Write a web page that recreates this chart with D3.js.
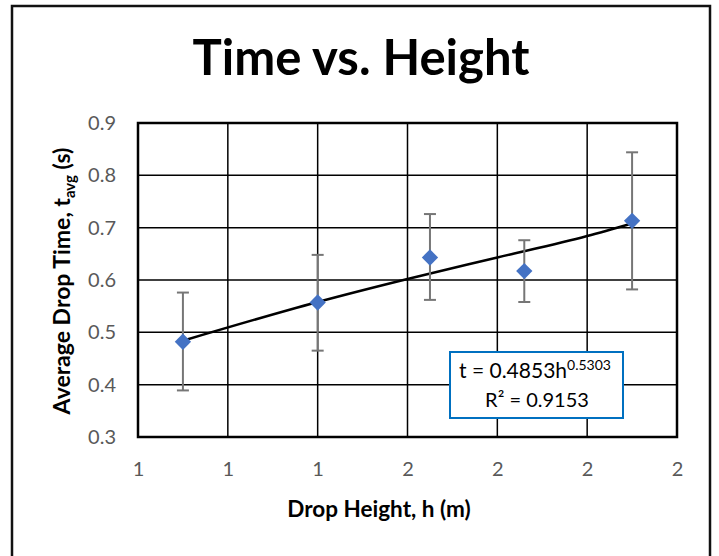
<!DOCTYPE html>
<html lang="en">
  <head>
    <meta charset="UTF-8" />
    <title>Time vs. Height</title>
    <script src="https://d3js.org/d3.v7.min.js"></script>
    <style>
      body { margin: 0; background: #fff; }
      svg { display: block; font-family: Lato, 'Open Sans', sans-serif; }
    </style>
  </head>
  <body>
    <div id="chart"></div>
    <script>
      // measured drop data
      const heights = [1.1, 1.4, 1.65, 1.86, 2.1];
      const times = [0.482, 0.557, 0.643, 0.617, 0.713];
      const errLow = [0.389, 0.465, 0.562, 0.558, 0.582];
      const errHigh = [0.576, 0.648, 0.726, 0.676, 0.844];

      // power trendline
      const trendH = [1.1, 1.4, 1.6, 1.8, 2.0, 2.1];
      const trendT = [0.484, 0.558, 0.602, 0.643, 0.684, 0.708];

      const xTicks = [1.0, 1.2, 1.4, 1.6, 1.8, 2.0, 2.2];
      const yTicks = [0.3, 0.4, 0.5, 0.6, 0.7, 0.8, 0.9];

      const width = 719;
      const height = 556;
      const plot = { left: 138, right: 677, top: 123, bottom: 437 };

      const svg = d3
        .select('#chart')
        .append('svg')
        .attr('width', width)
        .attr('height', height);

      // outer frame
      svg
        .append('rect')
        .attr('x', 12)
        .attr('y', 6)
        .attr('width', 698)
        .attr('height', 560)
        .attr('fill', '#fff')
        .attr('stroke', '#111')
        .attr('stroke-width', 2.5);

      const x = d3.scaleLinear().domain([1.0, 2.2]).range([plot.left, plot.right]);
      const y = d3.scaleLinear().domain([0.3, 0.9]).range([plot.bottom, plot.top]);

      // gridlines
      const grid = svg.append('g').attr('stroke', '#000').attr('stroke-width', 1.5);
      grid
        .selectAll('line.v')
        .data(xTicks)
        .enter()
        .append('line')
        .attr('x1', (d) => x(d))
        .attr('x2', (d) => x(d))
        .attr('y1', plot.top)
        .attr('y2', plot.bottom);
      grid
        .selectAll('line.h')
        .data(yTicks)
        .enter()
        .append('line')
        .attr('x1', plot.left)
        .attr('x2', plot.right)
        .attr('y1', (d) => y(d))
        .attr('y2', (d) => y(d));

      svg
        .append('rect')
        .attr('x', plot.left)
        .attr('y', plot.top)
        .attr('width', plot.right - plot.left)
        .attr('height', plot.bottom - plot.top)
        .attr('fill', 'none')
        .attr('stroke', '#000')
        .attr('stroke-width', 2.5);

      // axes (labels only, like excel)
      const xAxis = svg
        .append('g')
        .attr('transform', `translate(0,${plot.bottom})`)
        .call(d3.axisBottom(x).tickValues(xTicks).tickFormat(d3.format('.0f')).tickSize(0).tickPadding(25));
      const yAxis = svg
        .append('g')
        .attr('transform', `translate(${plot.left},0)`)
        .call(d3.axisLeft(y).tickValues(yTicks).tickFormat(d3.format('.1f')).tickSize(0).tickPadding(22));
      [xAxis, yAxis].forEach((a) => {
        a.select('.domain').remove();
        a.selectAll('text')
          .attr('fill', '#595959')
          .style('font-size', '20px')
          .style('font-family', "Lato, 'Open Sans', sans-serif");
      });

      // trendline
      const trend = trendH.map((h, i) => [h, trendT[i]]);
      svg
        .append('path')
        .datum(trend)
        .attr('fill', 'none')
        .attr('stroke', '#000')
        .attr('stroke-width', 2.5)
        .attr('d', d3.line().x((d) => x(d[0])).y((d) => y(d[1])).curve(d3.curveMonotoneX));

      // error bars
      const bars = svg.append('g').attr('stroke', '#767676').attr('stroke-width', 2);
      heights.forEach((h, i) => {
        bars.append('line')
          .attr('x1', x(h)).attr('x2', x(h))
          .attr('y1', y(errLow[i])).attr('y2', y(errHigh[i]));
        [errLow[i], errHigh[i]].forEach((v) => {
          bars.append('line')
            .attr('x1', x(h) - 6).attr('x2', x(h) + 6)
            .attr('y1', y(v)).attr('y2', y(v));
        });
      });

      // markers
      svg
        .append('g')
        .selectAll('path')
        .data(heights)
        .enter()
        .append('path')
        .attr('d', d3.symbol().type(d3.symbolDiamond2).size(170))
        .attr('transform', (d, i) => `translate(${x(d)},${y(times[i])})`)
        .attr('fill', '#4472C4');

      // title
      svg
        .append('text')
        .attr('x', 361)
        .attr('y', 75)
        .attr('text-anchor', 'middle')
        .style('font-size', '49px')
        .style('font-weight', 'bold')
        .text('Time vs. Height');

      // axis titles
      svg
        .append('text')
        .attr('x', 379)
        .attr('y', 517)
        .attr('text-anchor', 'middle')
        .style('font-size', '22.5px')
        .style('font-weight', 'bold')
        .text('Drop Height, h (m)');

      const yTitle = svg
        .append('text')
        .attr('transform', 'translate(70,281) rotate(-90)')
        .attr('text-anchor', 'middle')
        .style('font-size', '23px')
        .style('font-weight', 'bold');
      yTitle.append('tspan').text('Average Drop Time, t');
      yTitle.append('tspan').attr('dy', 5).style('font-size', '15px').text('avg');
      yTitle.append('tspan').attr('dy', -5).text(' (s)');

      // equation box
      const box = svg.append('g');
      box
        .append('rect')
        .attr('x', 450)
        .attr('y', 352)
        .attr('width', 173)
        .attr('height', 66)
        .attr('fill', '#fff')
        .attr('stroke', '#0070C0')
        .attr('stroke-width', 2);
      const eq = box
        .append('text')
        .attr('x', 535)
        .attr('y', 378)
        .attr('text-anchor', 'middle')
        .style('font-size', '21px');
      eq.append('tspan').text('t = 0.4853h');
      eq.append('tspan').attr('dy', -8).style('font-size', '14px').text('0.5303');
      box
        .append('text')
        .attr('x', 537)
        .attr('y', 407)
        .attr('text-anchor', 'middle')
        .style('font-size', '20px')
        .text('R² = 0.9153');
    </script>
  </body>
</html>
